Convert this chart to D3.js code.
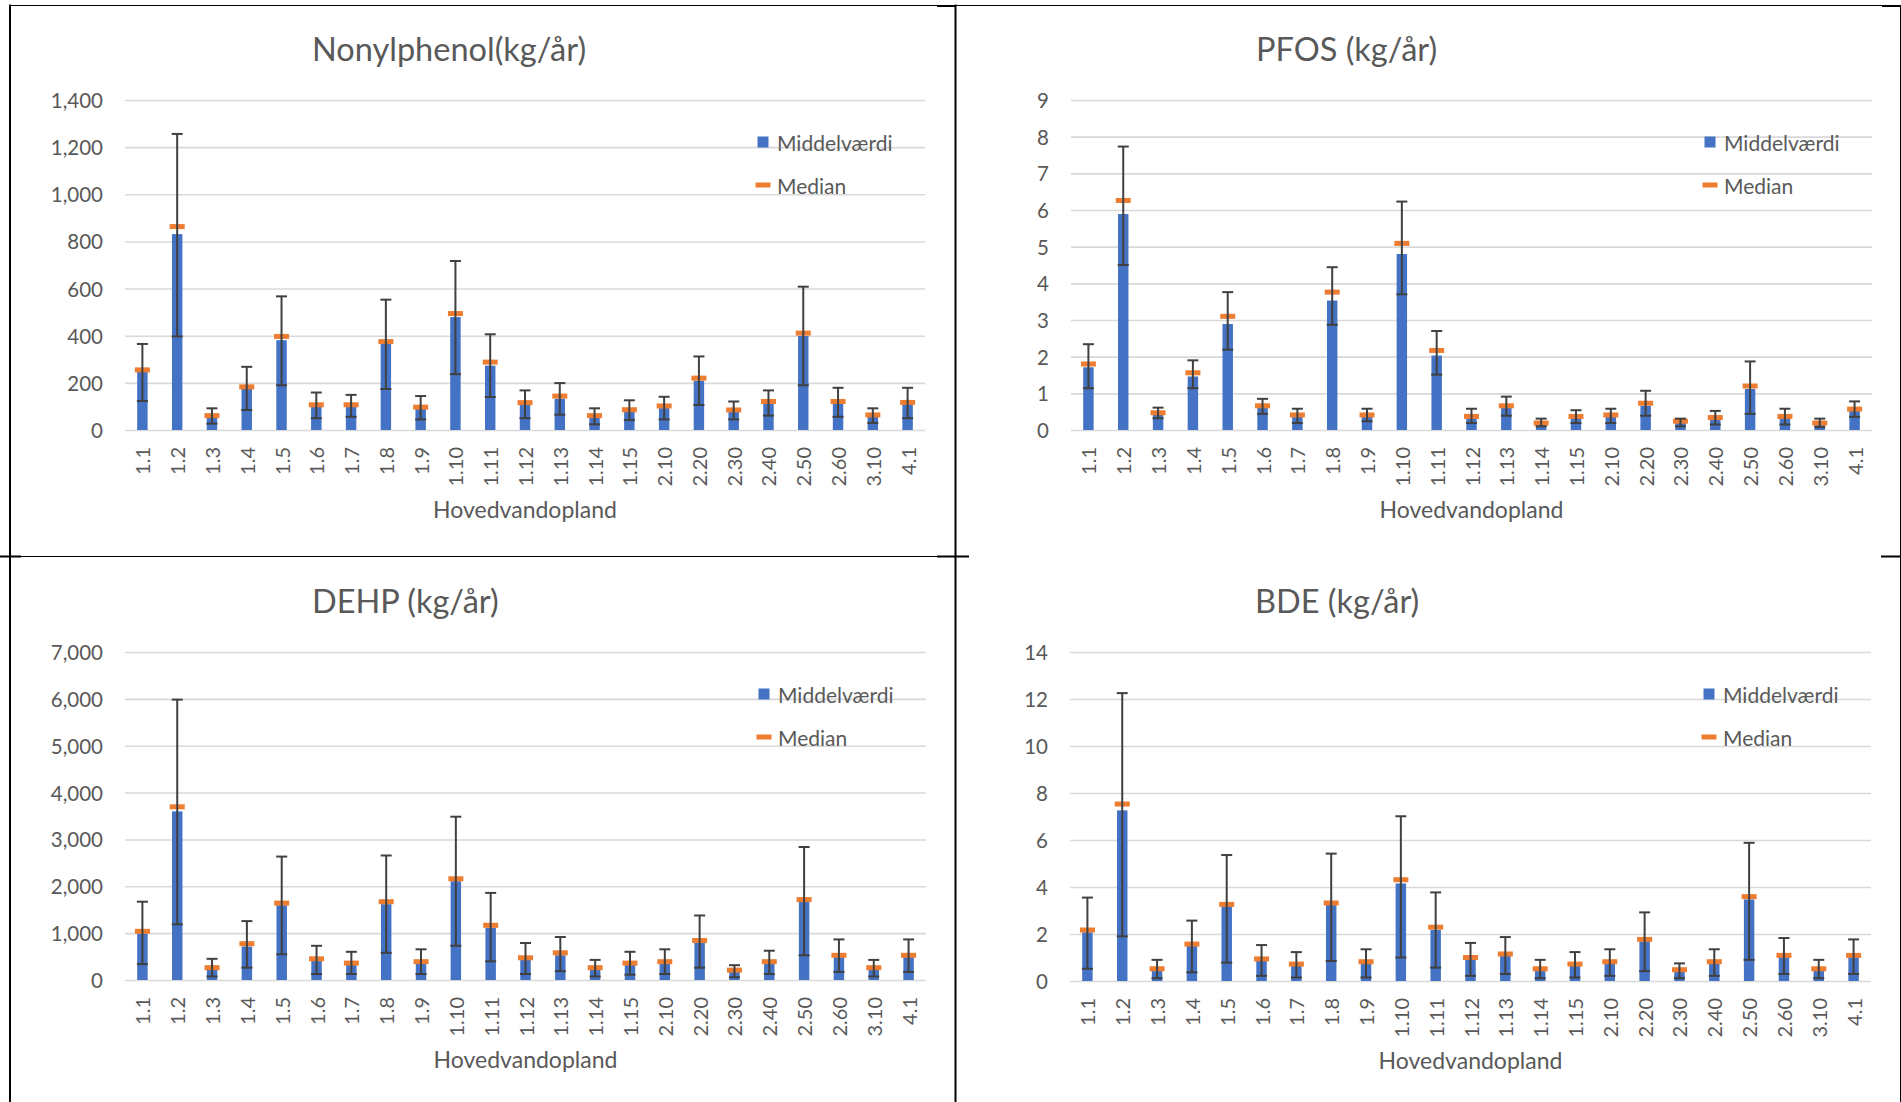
<!DOCTYPE html>
<html>
<head>
<meta charset="utf-8">
<script src="https://cdn.jsdelivr.net/npm/d3@7"></script>
<style>
  html, body { margin: 0; padding: 0; background: #ffffff; }
  svg { display: block; }
  text { font-family: Lato, "Open Sans", sans-serif; fill: #595959; }
</style>
</head>
<body>
<script>
// ---------------- DATA ----------------
const categories = ["1.1","1.2","1.3","1.4","1.5","1.6","1.7","1.8","1.9","1.10","1.11","1.12","1.13","1.14","1.15","2.10","2.20","2.30","2.40","2.50","2.60","3.10","4.1"];
const seriesNames = ["Middelværdi", "Median"];
const xAxisTitle = "Hovedvandopland";

const nonylTitle = "Nonylphenol(kg/år)";
const nonylTicks = [0,200,400,600,800,1000,1200,1400];
const nonylMean   = [247, 831, 58, 177, 381, 102, 100, 365, 92, 479, 273, 110, 133, 57, 83, 93, 209, 82, 115, 399, 117, 60, 113];
const nonylMedian = [255, 863, 61, 183, 397, 107, 107, 375, 97, 494, 288, 116, 144, 61, 86, 102, 220, 85, 121, 411, 121, 64, 117];
const nonylLow    = [123, 397, 27, 85, 190, 50, 56, 174, 45, 237, 140, 50, 65, 24, 42, 45, 106, 45, 61, 190, 56, 30, 50];
const nonylHigh   = [365, 1256, 92, 268, 567, 159, 149, 553, 144, 717, 406, 168, 199, 92, 126, 141, 312, 121, 168, 608, 179, 92, 179];

const pfosTitle = "PFOS (kg/år)";
const pfosTicks = [0,1,2,3,4,5,6,7,8,9];
const pfosMean   = [1.71, 5.89, 0.44, 1.46, 2.89, 0.63, 0.37, 3.53, 0.37, 4.80, 2.03, 0.34, 0.63, 0.18, 0.34, 0.37, 0.66, 0.21, 0.31, 1.12, 0.34, 0.18, 0.52];
const pfosMedian = [1.80, 6.26, 0.47, 1.56, 3.10, 0.66, 0.41, 3.76, 0.41, 5.09, 2.17, 0.37, 0.66, 0.19, 0.37, 0.41, 0.73, 0.24, 0.34, 1.20, 0.37, 0.19, 0.57];
const pfosLow    = [1.14, 4.50, 0.32, 1.14, 2.19, 0.44, 0.19, 2.87, 0.24, 3.70, 1.51, 0.19, 0.39, 0.10, 0.19, 0.19, 0.39, 0.10, 0.15, 0.44, 0.15, 0.08, 0.36];
const pfosHigh   = [2.34, 7.73, 0.61, 1.90, 3.76, 0.85, 0.58, 4.44, 0.58, 6.23, 2.70, 0.58, 0.91, 0.31, 0.54, 0.58, 1.07, 0.31, 0.52, 1.87, 0.58, 0.31, 0.78];

const dehpTitle = "DEHP (kg/år)";
const dehpTicks = [0,1000,2000,3000,4000,5000,6000,7000];
const dehpMean   = [990, 3598, 226, 715, 1596, 414, 324, 1618, 354, 2108, 1114, 437, 527, 226, 324, 354, 790, 173, 354, 1671, 489, 226, 489];
const dehpMedian = [1039, 3696, 263, 775, 1641, 452, 361, 1671, 391, 2160, 1167, 474, 580, 263, 361, 391, 843, 211, 391, 1716, 527, 263, 527];
const dehpLow    = [339, 1189, 75, 263, 549, 128, 128, 580, 128, 730, 399, 128, 188, 75, 113, 128, 263, 60, 128, 527, 173, 75, 173];
const dehpHigh   = [1671, 5984, 452, 1257, 2634, 730, 602, 2657, 655, 3485, 1859, 790, 918, 429, 602, 655, 1377, 316, 625, 2838, 866, 429, 866];

const bdeTitle = "BDE (kg/år)";
const bdeTicks = [0,2,4,6,8,10,12,14];
const bdeMean   = [2.07, 7.26, 0.45, 1.50, 3.19, 0.87, 0.67, 3.25, 0.75, 4.15, 2.17, 0.93, 1.08, 0.45, 0.67, 0.75, 1.68, 0.42, 0.75, 3.47, 1.02, 0.45, 1.02];
const bdeMedian = [2.17, 7.53, 0.52, 1.57, 3.26, 0.94, 0.72, 3.32, 0.82, 4.31, 2.29, 1.00, 1.15, 0.52, 0.72, 0.82, 1.77, 0.48, 0.82, 3.59, 1.09, 0.52, 1.09];
const bdeLow    = [0.52, 1.90, 0.12, 0.37, 0.78, 0.22, 0.15, 0.85, 0.15, 1.00, 0.57, 0.22, 0.30, 0.12, 0.15, 0.22, 0.42, 0.12, 0.22, 0.90, 0.30, 0.12, 0.30];
const bdeHigh   = [3.55, 12.25, 0.90, 2.57, 5.36, 1.53, 1.23, 5.42, 1.35, 7.01, 3.77, 1.62, 1.87, 0.90, 1.23, 1.35, 2.92, 0.75, 1.35, 5.88, 1.83, 0.90, 1.77];

// ---------------- LAYOUT ----------------
const W = 1901, H = 1102;
const COLORS = { bar: "#4472C4", median: "#ED7D31", err: "#404040", grid: "#d9d9d9", text: "#595959" };

const panels = [
  { title: nonylTitle, ticks: nonylTicks, mean: nonylMean, median: nonylMedian, low: nonylLow, high: nonylHigh,
    x0: 125, x1: 925, y0: 100, y1: 430, titleX: 312 },
  { title: pfosTitle, ticks: pfosTicks, mean: pfosMean, median: pfosMedian, low: pfosLow, high: pfosHigh,
    x0: 1071, x1: 1872, y0: 100, y1: 430, titleX: 1256 },
  { title: dehpTitle, ticks: dehpTicks, mean: dehpMean, median: dehpMedian, low: dehpLow, high: dehpHigh,
    x0: 125, x1: 926, y0: 652, y1: 980, titleX: 312 },
  { title: bdeTitle, ticks: bdeTicks, mean: bdeMean, median: bdeMedian, low: bdeLow, high: bdeHigh,
    x0: 1070, x1: 1871, y0: 652, y1: 981, titleX: 1255 }
];

const svg = d3.select("body").append("svg").attr("width", W).attr("height", H);
svg.append("rect").attr("width", W).attr("height", H).attr("fill", "#fff");

const fmt = d3.format(",");

panels.forEach(p => {
  const g = svg.append("g");
  const x = d3.scaleBand().domain(categories).range([p.x0, p.x1]).paddingInner(0.7).paddingOuter(0.35);
  const y = d3.scaleLinear().domain([0, d3.max(p.ticks)]).range([p.y1, p.y0]);
  const cx = c => x(c) + x.bandwidth() / 2;

  // gridlines (via axis)
  const grid = g.append("g").attr("transform", `translate(${p.x0},0)`)
    .call(d3.axisLeft(y).tickValues(p.ticks).tickSize(-(p.x1 - p.x0)).tickFormat(""));
  grid.select(".domain").remove();
  grid.selectAll("line").attr("stroke", COLORS.grid).attr("stroke-width", 1.6);

  // y tick labels
  g.selectAll(".ylab").data(p.ticks).enter().append("text")
    .attr("x", p.x0 - 22).attr("y", d => y(d))
    .attr("text-anchor", "end").attr("dominant-baseline", "central")
    .style("font-size", "20.5px").text(d => fmt(d));

  // bars
  g.selectAll(".bar").data(categories).enter().append("rect")
    .attr("x", d => x(d)).attr("width", x.bandwidth())
    .attr("y", (d, i) => y(p.mean[i])).attr("height", (d, i) => y(0) - y(p.mean[i]))
    .attr("fill", COLORS.bar);

  // median markers
  g.selectAll(".med").data(categories).enter().append("rect")
    .attr("x", d => cx(d) - 7.5).attr("width", 15)
    .attr("y", (d, i) => y(p.median[i]) - 2.5).attr("height", 5)
    .attr("fill", COLORS.median);

  // error bars
  const eb = g.selectAll(".eb").data(categories).enter().append("g")
    .attr("stroke", COLORS.err).attr("stroke-width", 2);
  eb.append("line").attr("x1", d => cx(d)).attr("x2", d => cx(d))
    .attr("y1", (d, i) => y(p.low[i])).attr("y2", (d, i) => y(p.high[i]));
  eb.append("line").attr("x1", d => cx(d) - 5.5).attr("x2", d => cx(d) + 5.5)
    .attr("y1", (d, i) => y(p.low[i])).attr("y2", (d, i) => y(p.low[i]));
  eb.append("line").attr("x1", d => cx(d) - 5.5).attr("x2", d => cx(d) + 5.5)
    .attr("y1", (d, i) => y(p.high[i])).attr("y2", (d, i) => y(p.high[i]));

  // x tick labels (rotated)
  g.selectAll(".xlab").data(categories).enter().append("text")
    .attr("transform", d => `translate(${cx(d)},${p.y1 + 17}) rotate(-90)`)
    .attr("text-anchor", "end").attr("dominant-baseline", "central")
    .style("font-size", "20px").text(d => d);

  // axis title
  g.append("text").attr("x", (p.x0 + p.x1) / 2).attr("y", p.y1 + 79)
    .attr("text-anchor", "middle").attr("dominant-baseline", "central")
    .style("font-size", "23px").text(xAxisTitle);

  // chart title
  g.append("text").attr("x", p.titleX).attr("y", p.y0 - 52)
    .attr("text-anchor", "start").attr("dominant-baseline", "central")
    .style("font-size", "32.5px").text(p.title);

  // legend
  const lx = p.x1 - 162;
  g.append("rect").attr("x", lx - 5.5).attr("y", p.y0 + 42 - 5.5).attr("width", 11).attr("height", 11).attr("fill", COLORS.bar);
  g.append("rect").attr("x", lx - 7.5).attr("y", p.y0 + 85 - 2.5).attr("width", 15).attr("height", 5).attr("fill", COLORS.median);
  g.selectAll(".leg").data(seriesNames).enter().append("text")
    .attr("x", lx + 14).attr("y", (d, i) => p.y0 + 42 + i * 43)
    .attr("dominant-baseline", "central").style("font-size", "21px").text(d => d);
});

// ---------------- TABLE BORDERS ----------------
const borders = [
  [10, 5.5, 1900, 5.5, 1],
  [10, 4.5, 10, 1102, 2],
  [955.5, 4.5, 955.5, 1102, 2],
  [1900.5, 5, 1900.5, 1102, 1],
  [10, 556.5, 955, 556.5, 1],
  [0, 556.5, 21, 556.5, 2],
  [937, 556.5, 969, 556.5, 2],
  [1881, 556.5, 1900, 556.5, 2],
  [937, 6, 955, 6, 2],
  [1882, 6, 1900, 6, 2]
];
svg.selectAll(".border").data(borders).enter().append("line")
  .attr("x1", d => d[0]).attr("y1", d => d[1]).attr("x2", d => d[2]).attr("y2", d => d[3])
  .attr("stroke", "#000").attr("stroke-width", d => d[4]);
</script>
</body>
</html>
